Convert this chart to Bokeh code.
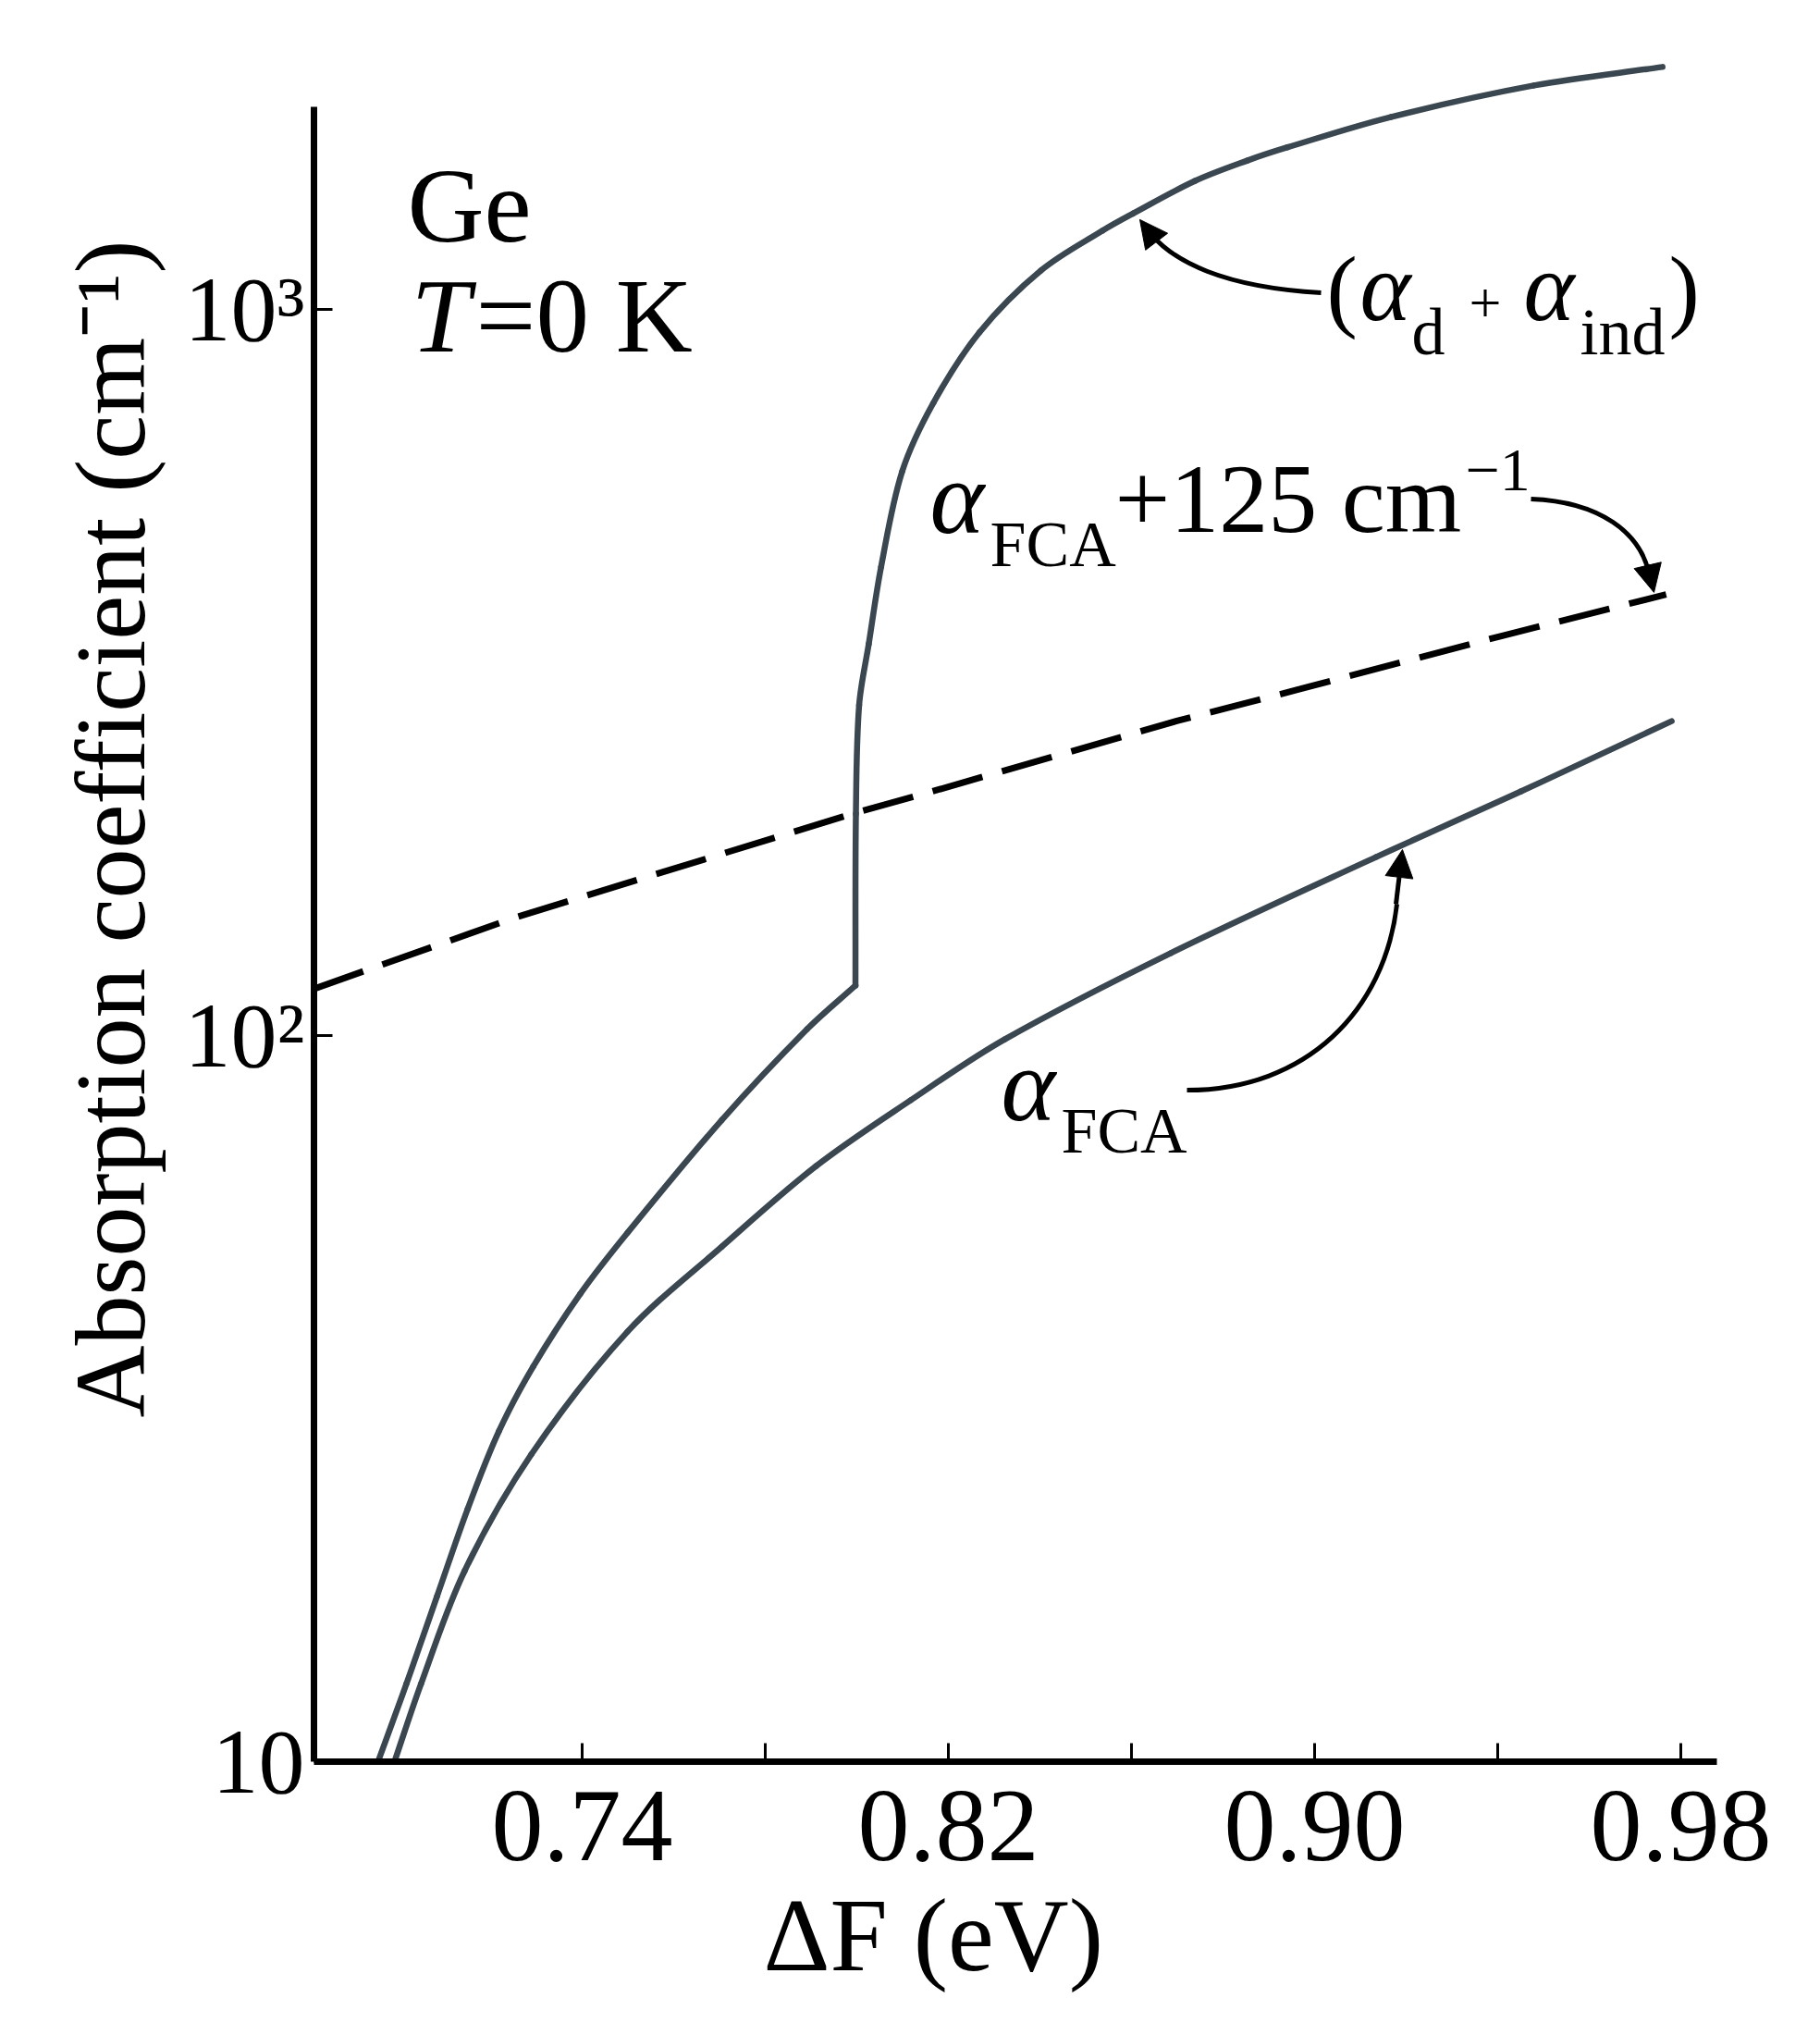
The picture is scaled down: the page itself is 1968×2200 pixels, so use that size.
import math
from bokeh.plotting import figure
from bokeh.models import Range1d, FixedTicker, Label, Arrow, NormalHead, Title
from bokeh.embed import file_html
from bokeh.resources import INLINE

# ---------------- data ----------------
# photon energy difference (eV) and absorption coefficient (cm^-1)
# alpha_d + alpha_ind (+ FCA) : lower branch up to the kink, then the steep rise
energy_total_low = [0.6954, 0.7016, 0.7083, 0.7150, 0.7218, 0.7293, 0.7396, 0.7499,
                    0.7705, 0.7891, 0.7997]
alpha_total_low = [10.0, 12.8, 16.9, 22.3, 28.5, 35.0, 44.1, 53.5,
                   76.5, 102.0, 117.2]
energy_total_high = [0.7997, 0.7998, 0.8005, 0.8026, 0.8053, 0.8099,
                     0.8167, 0.8268, 0.8402, 0.8537, 0.8604, 0.8739, 0.8853, 0.8941,
                     0.9166, 0.9479, 0.9760]
alpha_total_high = [117.2, 202.0, 285.0, 346.0, 442.0, 598.0,
                    743.0, 930.0, 1131.0, 1284.0, 1356.0, 1503.0, 1603.0, 1672.0,
                    1840.0, 2034.0, 2157.0]

energy_fca = [0.6990, 0.7048, 0.7143, 0.7289, 0.7499, 0.7705, 0.7911, 0.8117,
              0.8323, 0.8685, 0.9135, 0.9451, 0.9780]
alpha_fca = [10.0, 12.8, 18.3, 26.5, 39.1, 51.2, 66.1, 81.4,
             98.8, 129.8, 176.2, 216.9, 271.0]

energy_fca125 = [0.6815, 0.7251, 0.7689, 0.7992, 0.8133, 0.8699, 0.8968, 0.9408, 0.9768]
alpha_fca125 = [116.0, 145.2, 176.6, 202.2, 214.0, 271.1, 300.0, 355.0, 405.0]

x_major_ticks = [0.74, 0.82, 0.90, 0.98]
x_tick_labels = ["0.74", "0.82", "0.90", "0.98"]
x_minor_ticks = [0.78, 0.86, 0.94]
y_ticks = [10, 100, 1000]
y_tick_labels = ["10", "10\u00b2", "10\u00b3"]

X_RANGE = (0.68141, 0.98788)
Y_RANGE = (10, 2300)
Y_AXIS_BOUNDS = (10, 1900)

FONT = "Liberation Serif"
CURVE_COLOR = "#3a4750"

# pixel scale of the frame (used only for smoothing / text baseline tweaks)
PX_PER_EV = 4950.0
PX_PER_DECADE = 785.0

# ---------------- figure ----------------
p = figure(width=1952, height=2192,
           x_range=Range1d(*X_RANGE), y_range=Range1d(*Y_RANGE),
           y_axis_type="log", output_backend="svg", toolbar_location=None,
           min_border_left=339, min_border_right=96,
           min_border_top=50, min_border_bottom=288)
p.grid.visible = False
p.outline_line_color = None
p.background_fill_color = "white"
p.border_fill_color = "white"

# x axis
xa = p.xaxis[0]
xa.ticker = FixedTicker(ticks=x_major_ticks, minor_ticks=x_minor_ticks)
xa.major_label_overrides = dict(zip(x_major_ticks, x_tick_labels))
xa.axis_line_width = 7
xa.axis_line_color = "black"
xa.major_tick_in = 20
xa.major_tick_out = 0
xa.minor_tick_in = 20
xa.minor_tick_out = 0
xa.major_tick_line_width = 3
xa.minor_tick_line_width = 3
xa.major_tick_line_color = "black"
xa.minor_tick_line_color = "black"
xa.major_label_text_font = FONT
xa.major_label_text_font_size = "112px"
xa.major_label_text_color = "black"
xa.major_label_standoff = 32

# y axis
ya = p.yaxis[0]
ya.ticker = FixedTicker(ticks=y_ticks, minor_ticks=[])
ya.major_label_overrides = dict(zip(y_ticks, y_tick_labels))
ya.bounds = Y_AXIS_BOUNDS
ya.axis_line_width = 7
ya.axis_line_color = "black"
ya.major_tick_in = 20
ya.major_tick_out = 0
ya.major_tick_line_width = 3
ya.major_tick_line_color = "black"
ya.minor_tick_line_color = None
ya.major_label_text_font = FONT
ya.major_label_text_font_size = "100px"
ya.major_label_text_color = "black"
ya.major_label_standoff = 10

# axis titles
p.add_layout(Title(text="\u0394F (eV)", text_font=FONT, text_font_size="112px",
                   text_font_style="normal", text_color="black",
                   align="left", offset=486, standoff=29), "below")
p.add_layout(Title(text="Absorption coefficient (cm\u207b\u00b9)", text_font=FONT,
                   text_font_size="108px", text_font_style="normal",
                   text_color="black", align="left", offset=372, standoff=35), "left")


# ---------------- smooth curves through the read points ----------------
def smooth_segments(xs, ys):
    pts = [(x * PX_PER_EV, math.log10(y) * PX_PER_DECADE) for x, y in zip(xs, ys)]
    n = len(pts)
    tans = []
    for i in range(n):
        a = pts[max(i - 1, 0)]
        b = pts[min(i + 1, n - 1)]
        dx, dy = b[0] - a[0], b[1] - a[1]
        L = math.hypot(dx, dy) or 1.0
        tans.append((dx / L, dy / L))
    seg = dict(x0=[], y0=[], x1=[], y1=[], cx0=[], cy0=[], cx1=[], cy1=[])
    for i in range(n - 1):
        (ax, ay), (bx, by) = pts[i], pts[i + 1]
        d = math.hypot(bx - ax, by - ay) / 3.0
        c0 = (ax + tans[i][0] * d, ay + tans[i][1] * d)
        c1 = (bx - tans[i + 1][0] * d, by - tans[i + 1][1] * d)
        for key, (px, py) in (("0", (ax, ay)), ("1", (bx, by))):
            seg["x" + key].append(px / PX_PER_EV)
            seg["y" + key].append(10 ** (py / PX_PER_DECADE))
        seg["cx0"].append(c0[0] / PX_PER_EV)
        seg["cy0"].append(10 ** (c0[1] / PX_PER_DECADE))
        seg["cx1"].append(c1[0] / PX_PER_EV)
        seg["cy1"].append(10 ** (c1[1] / PX_PER_DECADE))
    return seg


p.line(energy_fca125, alpha_fca125, line_color="black", line_width=7,
       line_dash="56 22")
for xs, ys in ((energy_fca, alpha_fca),
               (energy_total_low, alpha_total_low),
               (energy_total_high, alpha_total_high)):
    p.bezier(line_color=CURVE_COLOR, line_width=6.5, line_cap="round",
             **smooth_segments(xs, ys))

# ---------------- annotation arrows (curved) ----------------
arrow_curves = dict(
    x0=[0.901414, 0.947273, 0.872121],
    y0=[1054.2, 548.1, 84.09],
    cx0=[0.880000, 0.962828, 0.898182],
    cy0=[1072.9, 543.3, 84.09],
    cx1=[0.868889, 0.970909, 0.915354],
    cy1=[1164.8, 490.4, 108.2],
    x1=[0.863838, 0.972929, 0.917980],
    y1=[1279.5, 436.1, 151.7],
)
p.bezier(line_color="black", line_width=5, **arrow_curves)

arrow_heads = [
    ((0.865051, 1249.8), (0.861818, 1329.4)),
    ((0.972727, 445.1), (0.974141, 407.6)),
    ((0.917778, 151.7), (0.919192, 180.3)),
]
for (xs, ys), (xe, ye) in arrow_heads:
    p.add_layout(Arrow(end=NormalHead(size=30, fill_color="black", line_color="black", line_width=1),
                       x_start=xs, y_start=ys, x_end=xe, y_end=ye,
                       line_color="black", line_width=5))


# ---------------- text labels ----------------
def lab(x, y, text, size, style="normal"):
    # lift the anchor so the glyph baseline sits at the read position
    y_anchor = y * 10 ** (0.29 * size / PX_PER_DECADE)
    p.add_layout(Label(x=x, y=y_anchor, text=text, text_font=FONT,
                       text_font_size=f"{size}px", text_font_style=style,
                       text_color="black", text_align="left",
                       text_baseline="alphabetic"))


# material / temperature
lab(0.701818, 1260.0, "Ge", 115)
lab(0.702626, 889.3, "T", 115, "italic")
lab(0.716768, 889.3, "=0 K", 115)

# (alpha_d + alpha_ind)
lab(0.902626, 980.0, "(", 100)
lab(0.909899, 980.0, "\u03b1", 105, "italic")
lab(0.921212, 874.0, "d", 72)
lab(0.933737, 966.0, "+", 62)
lab(0.945657, 980.0, "\u03b1", 105, "italic")
lab(0.957980, 874.0, "ind", 72)
lab(0.977374, 980.0, ")", 100)

# alpha_FCA + 125 cm^-1
lab(0.815960, 500.6, "\u03b1", 112, "italic")
lab(0.829091, 447.8, "FCA", 70)
lab(0.856364, 500.6, "+125 cm", 106)
lab(0.932929, 567.7, "\u22121", 66)

# alpha_FCA
lab(0.831515, 77.7, "\u03b1", 112, "italic")
lab(0.844646, 69.7, "FCA", 70)

open("out.html", "w").write(file_html(p, INLINE))
